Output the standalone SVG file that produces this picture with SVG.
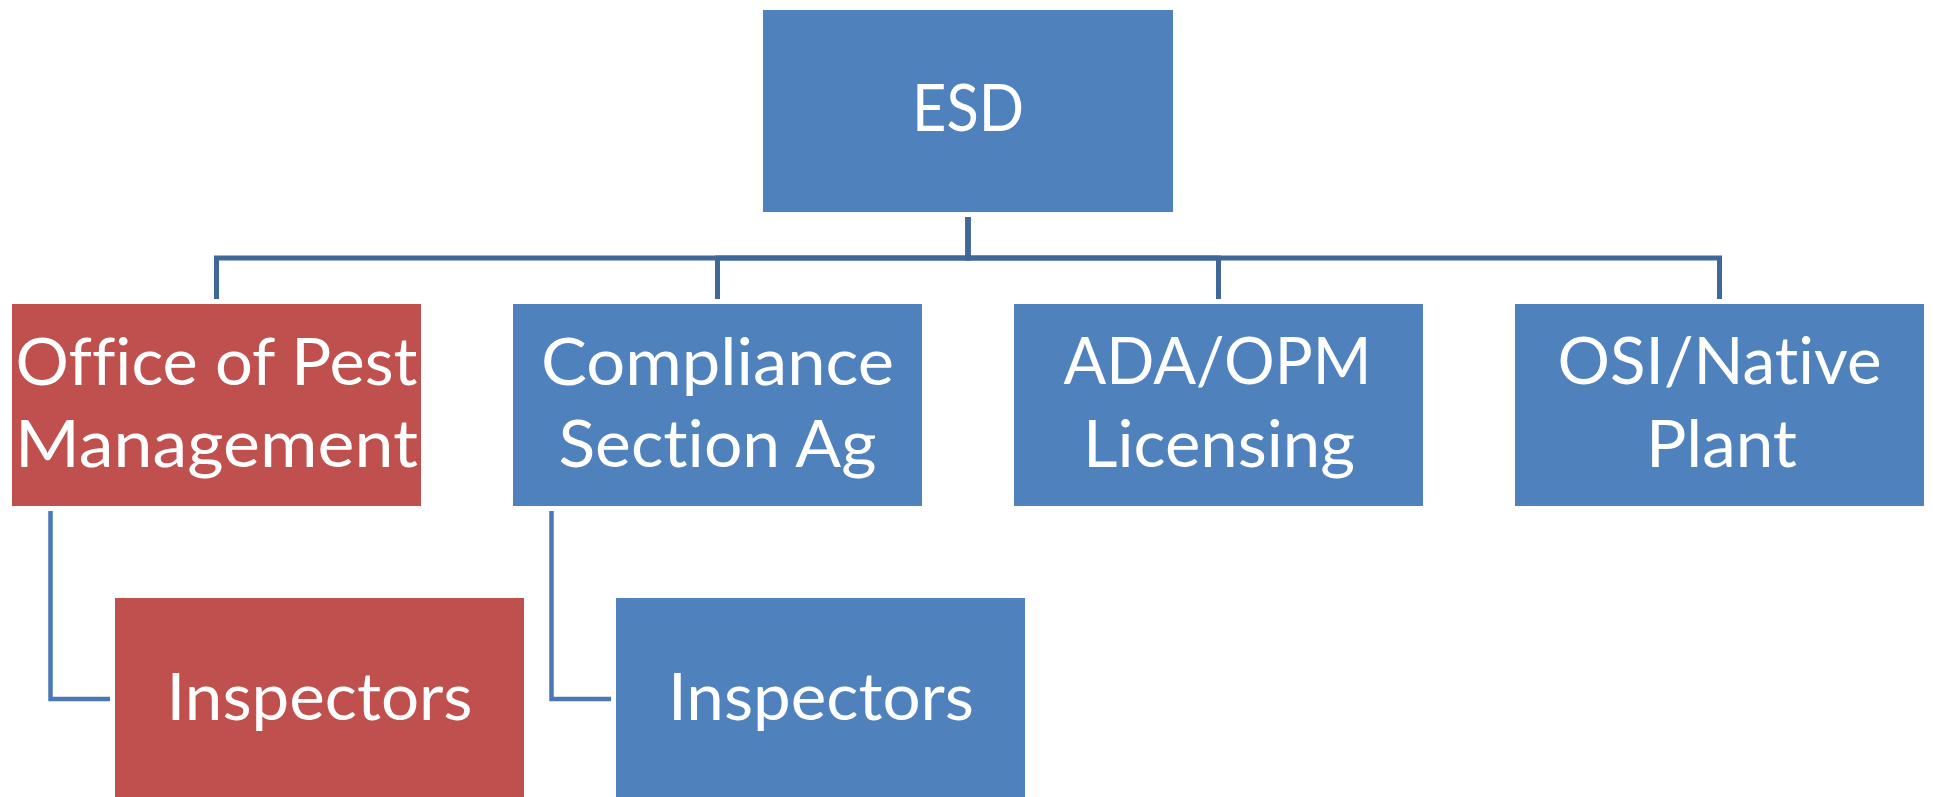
<svg xmlns="http://www.w3.org/2000/svg" width="1933" height="797" viewBox="0 0 1933 797">
<style>
  .blue { fill: #4F81BD; }
  .red { fill: #C0504D; }
  .lbl { font-family: Lato, "Open Sans", "Liberation Sans", sans-serif; font-size: 66px; fill: #FFFFFF; text-anchor: middle; font-variant-ligatures: none; font-feature-settings: "liga" 0, "clig" 0; }
  .conn { fill: none; stroke: #3F6899; stroke-width: 5; stroke-linejoin: miter; }
  .side { fill: none; stroke: #4A78B5; stroke-width: 4.5; stroke-linejoin: miter; }
</style>
<rect width="1933" height="797" fill="#FFFFFF"/>
<g id="connectors">
  <path class="conn" d="M968 217 V258 H216.5 V299"/>
  <path class="conn" d="M968 217 V258 H717.5 V299"/>
  <path class="conn" d="M968 217 V258 H1218.5 V299"/>
  <path class="conn" d="M968 217 V258 H1719.5 V299"/>
  <path class="side" d="M50.5 511 V699 H110"/>
  <path class="side" d="M551.5 511 V699 H611"/>
</g>
<g id="esd">
  <rect class="blue" x="763" y="10" width="410" height="202"/>
  <text class="lbl" x="968" y="131" textLength="112" lengthAdjust="spacingAndGlyphs">ESD</text>
</g>
<g id="office-pest">
  <rect class="red" x="12" y="304" width="409" height="202"/>
  <text class="lbl" x="216.5" y="385" textLength="402" lengthAdjust="spacingAndGlyphs">Office of Pest</text>
  <text class="lbl" x="216.5" y="467" textLength="403" lengthAdjust="spacingAndGlyphs">Management</text>
</g>
<g id="compliance">
  <rect class="blue" x="513" y="304" width="409" height="202"/>
  <text class="lbl" x="717.5" y="385" textLength="353" lengthAdjust="spacingAndGlyphs">Compliance</text>
  <text class="lbl" x="717.5" y="467" textLength="318" lengthAdjust="spacingAndGlyphs">Section Ag</text>
</g>
<g id="ada-opm">
  <rect class="blue" x="1014" y="304" width="409" height="202"/>
  <text class="lbl" x="1217.5" y="384" textLength="308" lengthAdjust="spacingAndGlyphs">ADA/OPM</text>
  <text class="lbl" x="1219" y="467" textLength="272" lengthAdjust="spacingAndGlyphs">Licensing</text>
</g>
<g id="osi-native">
  <rect class="blue" x="1515" y="304" width="409" height="202"/>
  <text class="lbl" x="1719.5" y="384" textLength="324" lengthAdjust="spacingAndGlyphs">OSI/Native</text>
  <text class="lbl" x="1721.5" y="467" textLength="151" lengthAdjust="spacingAndGlyphs">Plant</text>
</g>
<g id="inspectors-pest">
  <rect class="red" x="115" y="598" width="409" height="202"/>
  <text class="lbl" x="319.5" y="720" textLength="306" lengthAdjust="spacingAndGlyphs">Inspectors</text>
</g>
<g id="inspectors-compliance">
  <rect class="blue" x="616" y="598" width="409" height="202"/>
  <text class="lbl" x="821" y="720" textLength="306" lengthAdjust="spacingAndGlyphs">Inspectors</text>
</g>
</svg>
